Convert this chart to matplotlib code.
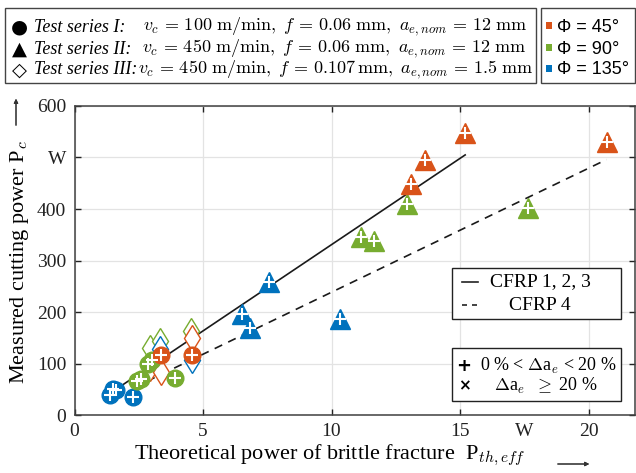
import numpy as np
import matplotlib
matplotlib.use('Agg')
import matplotlib.pyplot as plt
from matplotlib.patches import Rectangle

plt.rcParams['mathtext.fontset'] = 'cm'
plt.rcParams['font.family'] = ['Liberation Serif', 'DejaVu Serif']

W_PX, H_PX = 636, 473

C_ORANGE = '#D95319'
C_GREEN = '#77AC30'
C_BLUE = '#0072BD'

# test series I (circles)
s1_orange_x = [3.35, 4.58]
s1_orange_y = [117, 117]
s1_green_x = [2.45, 2.6, 2.85, 3.0, 3.9]
s1_green_y = [66, 70, 100, 106, 72]
s1_blue_x = [1.4, 1.5, 1.62, 2.27]
s1_blue_y = [38, 50, 48, 35]

# test series II (triangles)
s2_orange_x = [13.1, 13.65, 15.2, 20.7]
s2_orange_y = [448, 495, 548, 530]
s2_green_x = [11.15, 11.65, 12.95, 17.65]
s2_green_y = [345, 338, 410, 402]
s2_blue_x = [6.5, 6.83, 7.58, 10.33]
s2_blue_y = [196, 168, 258, 186]

# test series III (open diamonds)
s3_orange_x = [2.94, 3.35, 4.58]
s3_orange_y = [92, 84, 149]
s3_green_x = [2.92, 3.33, 4.55]
s3_green_y = [130, 144, 164]
s3_blue_x = [3.33, 4.58]
s3_blue_y = [128, 106]

# fit lines
fit123_x = [1.5, 15.2]
fit123_y = [46, 505]
fit4_x = [2.3, 20.7]
fit4_y = [53, 496]

x_ticks = [0, 5, 10, 15, 20]
y_ticks = [0, 100, 200, 300, 400, 500, 600]
y_labels = ['0', '100', '200', '300', '400', 'W', '600']


def fx(px):
	return px / W_PX


def fy(py):
	return 1 - py / H_PX


fig = plt.figure(figsize=(6.36, 4.73), dpi=100)
ax = fig.add_axes([fx(74.5), fy(415), fx(634.8) - fx(74.5), fy(106) - fy(415)])

ax.plot(fit123_x, fit123_y, color='#1a1a1a', lw=1.2, zorder=2)
ax.plot(fit4_x, fit4_y, color='#1a1a1a', lw=1.2, ls=(0, (5, 4)), zorder=2)

for xs, ys, c in [(s3_green_x, s3_green_y, C_GREEN), (s3_orange_x, s3_orange_y, C_ORANGE), (s3_blue_x, s3_blue_y, C_BLUE)]:
	ax.plot(xs, ys, 'd', ms=13, mfc='white', mec=c, mew=1.0, ls='none', zorder=3)

for xs, ys, c in [(s1_blue_x, s1_blue_y, C_BLUE), (s1_green_x, s1_green_y, C_GREEN), (s1_orange_x, s1_orange_y, C_ORANGE)]:
	ax.plot(xs, ys, 'o', ms=12, mfc=c, mec=c, ls='none', zorder=4)
	ax.plot(xs, ys, '+', ms=8, mec='white', mew=1.5, ls='none', zorder=5)

for xs, ys, c in [(s2_blue_x, s2_blue_y, C_BLUE), (s2_green_x, s2_green_y, C_GREEN), (s2_orange_x, s2_orange_y, C_ORANGE)]:
	ax.plot(xs, ys, '^', ms=14, mfc=c, mec=c, ls='none', zorder=4)
	ax.plot(xs, ys, '+', ms=8, mec='white', mew=1.5, ls='none', zorder=5)

ax.set_xlim(0, 21.8)
ax.set_ylim(0, 600)
ax.set_xticks(x_ticks)
ax.set_xticks([17.5], minor=True)
ax.set_xticklabels([str(t) for t in x_ticks])
ax.set_xticklabels(['W'], minor=True)
ax.set_yticks(y_ticks)
ax.set_yticklabels(y_labels)
ax.grid(True, which='major', color='#e3e3e3', lw=0.9)
ax.set_axisbelow(True)
ax.tick_params(which='major', direction='in', length=4, width=1, top=True, right=True, labelsize=14, colors='#222222', pad=6)
ax.tick_params(which='minor', direction='in', length=0, labelsize=14, colors='#222222', pad=6)
for s in ax.spines.values():
	s.set_color('#404040')
	s.set_linewidth(1.1)

fig.text(fx(20), fy(262), r'Measured cutting power P$_c$', rotation=90, ha='center', va='center', fontsize=16)
fig.text(fx(330), fy(455), r'Theoretical power of brittle fracture  P$_{th,eff}$', ha='center', va='center', fontsize=16)
fig.add_artist(plt.annotate('', xy=(fx(16), fy(96)), xytext=(fx(16), fy(128)), xycoords='figure fraction',
	arrowprops=dict(arrowstyle='-|>', color='#333333', lw=0.8, mutation_scale=6)))
fig.add_artist(plt.annotate('', xy=(fx(592), fy(464)), xytext=(fx(555), fy(464)), xycoords='figure fraction',
	arrowprops=dict(arrowstyle='-|>', color='#333333', lw=0.8, mutation_scale=6)))

# boxes inside the axes
for (x0, y0, x1, y1) in [(452, 268, 621, 319), (452, 348, 621, 401)]:
	fig.add_artist(Rectangle((fx(x0), fy(y1)), fx(x1) - fx(x0), fy(y0) - fy(y1), transform=fig.transFigure,
		facecolor='white', edgecolor='#222222', lw=1.0, zorder=10))
fig.add_artist(plt.Line2D([fx(462), fx(478)], [fy(282), fy(282)], color='#222222', lw=1.2, zorder=11))
fig.add_artist(plt.Line2D([fx(462), fx(478)], [fy(305), fy(305)], color='#222222', lw=1.2, ls=(0, (3, 3)), zorder=11))
fig.text(fx(540), fy(282), 'CFRP 1, 2, 3', ha='center', va='center', fontsize=14, zorder=12)
fig.text(fx(540), fy(305), 'CFRP 4', ha='center', va='center', fontsize=14, zorder=12)
fig.text(fx(464), fy(366), '+', ha='center', va='center', fontsize=13, fontweight='bold', family='DejaVu Sans', zorder=12)
fig.text(fx(464), fy(386), '×', ha='center', va='center', fontsize=11, fontweight='bold', family='DejaVu Sans', zorder=12)
fig.text(fx(548), fy(366), r'0 % < $\Delta$a$_e$ < 20 %', ha='center', va='center', fontsize=13, zorder=12)
fig.text(fx(546), fy(386), r'$\Delta$a$_e$  $\geq$ 20 %', ha='center', va='center', fontsize=13, zorder=12)

# top legend boxes
fig.add_artist(Rectangle((fx(5), fy(83)), fx(536) - fx(5), fy(8) - fy(83), transform=fig.transFigure,
	facecolor='white', edgecolor='#444444', lw=1.0))
fig.add_artist(Rectangle((fx(541), fy(83)), fx(635) - fx(541), fy(8) - fy(83), transform=fig.transFigure,
	facecolor='white', edgecolor='#444444', lw=1.0))

rows_y = [27, 49, 70]
markers = ['●', '▲', '◇']
names = ['Test series I:', 'Test series II:', 'Test series III:']
math_x = [143, 142, 138]
params = [
	r'$v_c\,=\,100\ \mathrm{m/min},\ f\,=\,0.06\ \mathrm{mm},\ a_{e,nom}\,=\,12\ \mathrm{mm}$',
	r'$v_c\,=\,450\ \mathrm{m/min},\ f\,=\,0.06\ \mathrm{mm},\ a_{e,nom}\,=\,12\ \mathrm{mm}$',
	r'$v_c\,=\,450\ \mathrm{m/min},\ f\,=\,0.107\,\mathrm{mm},\ a_{e,nom}\,=\,1.5\ \mathrm{mm}$',
]
for py, m, n, mx, p in zip(rows_y, markers, names, math_x, params):
	fig.text(fx(19), fy(py), m, ha='center', va='center', fontsize=14, family='DejaVu Sans')
	fig.text(fx(34), fy(py), n, ha='left', va='center', fontsize=13, style='italic')
	fig.text(fx(mx), fy(py), p, ha='left', va='center', fontsize=13)

phi_labels = ['Φ = 45°', 'Φ = 90°', 'Φ = 135°']
phi_colors = [C_ORANGE, C_GREEN, C_BLUE]
for py, lab, c in zip(rows_y, phi_labels, phi_colors):
	fig.add_artist(Rectangle((fx(546), fy(py + 2)), fx(6), fy(0) - fy(7), transform=fig.transFigure,
		facecolor=c, edgecolor='none'))
	fig.text(fx(557), fy(py), lab, ha='left', va='center', fontsize=13, family='Liberation Sans')

fig.savefig('out.png', dpi=100)
